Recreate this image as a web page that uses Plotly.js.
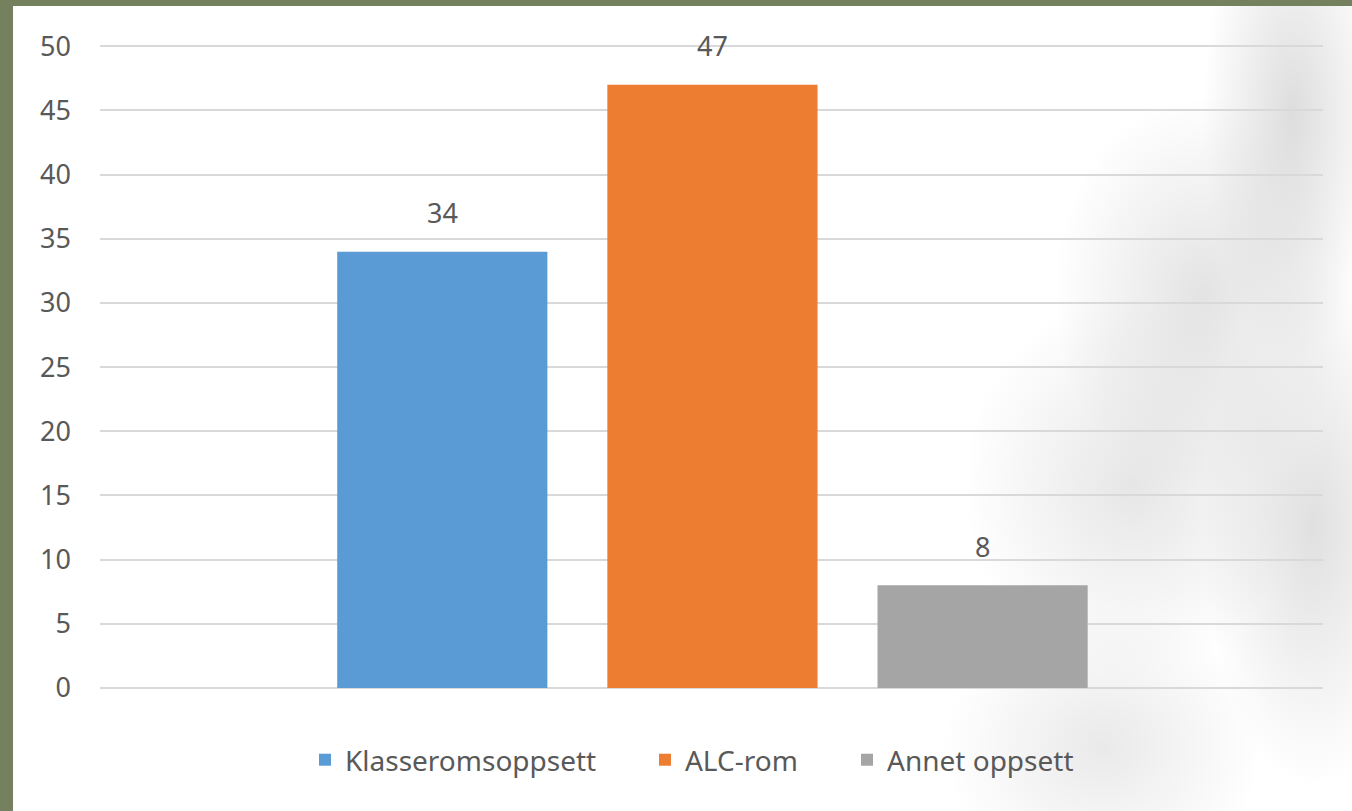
<!DOCTYPE html>
<html>
<head>
<meta charset="utf-8">
<script src="https://cdn.plot.ly/plotly-3.0.1.min.js"></script>
<style>
html,body{margin:0;padding:0;width:1352px;height:811px;overflow:hidden;background:#75805f;}
#wrap{position:absolute;left:13px;top:6px;width:1339px;height:805px;background:#ffffff;overflow:hidden;}
#shade{position:absolute;left:0;top:0;width:100%;height:100%;
background:
 radial-gradient(ellipse 90px 240px at 1280px 110px, rgba(195,193,195,0.55), rgba(255,255,255,0) 100%),
 radial-gradient(ellipse 150px 200px at 1190px 290px, rgba(195,193,195,0.45), rgba(255,255,255,0) 100%),
 radial-gradient(ellipse 170px 190px at 1120px 480px, rgba(195,193,195,0.4), rgba(255,255,255,0) 100%),
 radial-gradient(ellipse 110px 260px at 1300px 520px, rgba(195,193,195,0.5), rgba(255,255,255,0) 100%),
 radial-gradient(ellipse 160px 140px at 1090px 740px, rgba(195,193,195,0.35), rgba(255,255,255,0) 100%);}
#chart{position:absolute;left:-13px;top:-6px;width:1352px;height:811px;}
</style>
</head>
<body>
<div id="wrap"><div id="shade"></div><div id="chart"></div></div>
<script>
const categories = ["Klasseromsoppsett", "ALC-rom", "Annet oppsett"];
const values = [34, 47, 8];
const colors = ["#5b9bd5", "#ed7d31", "#a5a5a5"];
const yTicks = [0, 5, 10, 15, 20, 25, 30, 35, 40, 45, 50];

const FONT = "Noto Sans, sans-serif";
const legendNames = ["legend", "legend2", "legend3"];
const legendX = [0.1676, 0.4456, 0.6108];

const traces = categories.map((name, i) => ({
  type: "bar",
  name: name,
  x: [name],
  y: [values[i]],
  marker: {color: colors[i]},
  legend: legendNames[i],
  hoverinfo: "none"
}));

const annotations = categories.map((name, i) => ({
  x: name, y: values[i], xref: "x", yref: "y",
  text: String(values[i]), showarrow: false,
  yanchor: "middle", yshift: 39,
  font: {family: FONT, size: 27, color: "#595959"}
}));

const layout = {
  width: 1352, height: 811,
  margin: {l: 100, r: 29, t: 45, b: 123},
  paper_bgcolor: "rgba(0,0,0,0)",
  plot_bgcolor: "rgba(0,0,0,0)",
  barmode: "overlay",
  bargap: 0.222,
  showlegend: true,
  font: {family: FONT, color: "#595959", size: 27},
  xaxis: {type: "category", range: [-1.267, 3.26], showticklabels: false, showgrid: false,
          zeroline: false, showline: false, ticks: ""},
  yaxis: {
    range: [0, 50.1], tickvals: yTicks, ticktext: yTicks.map(String),
    showgrid: true, gridcolor: "#d9d9d9", gridwidth: 2,
    zeroline: true, zerolinecolor: "#d9d9d9", zerolinewidth: 2,
    showline: false, ticks: "", ticklabelstandoff: 28,
    tickfont: {size: 27, color: "#595959"}
  },
  annotations: annotations
};
legendNames.forEach((ln, i) => {
  layout[ln] = {
    orientation: "h", x: legendX[i], xanchor: "left", y: -0.112, yanchor: "middle",
    font: {size: 28, color: "#595959", family: FONT}, bgcolor: "rgba(0,0,0,0)"
  };
});

Plotly.newPlot("chart", traces, layout, {displayModeBar: false, staticPlot: true});
</script>
</body>
</html>
